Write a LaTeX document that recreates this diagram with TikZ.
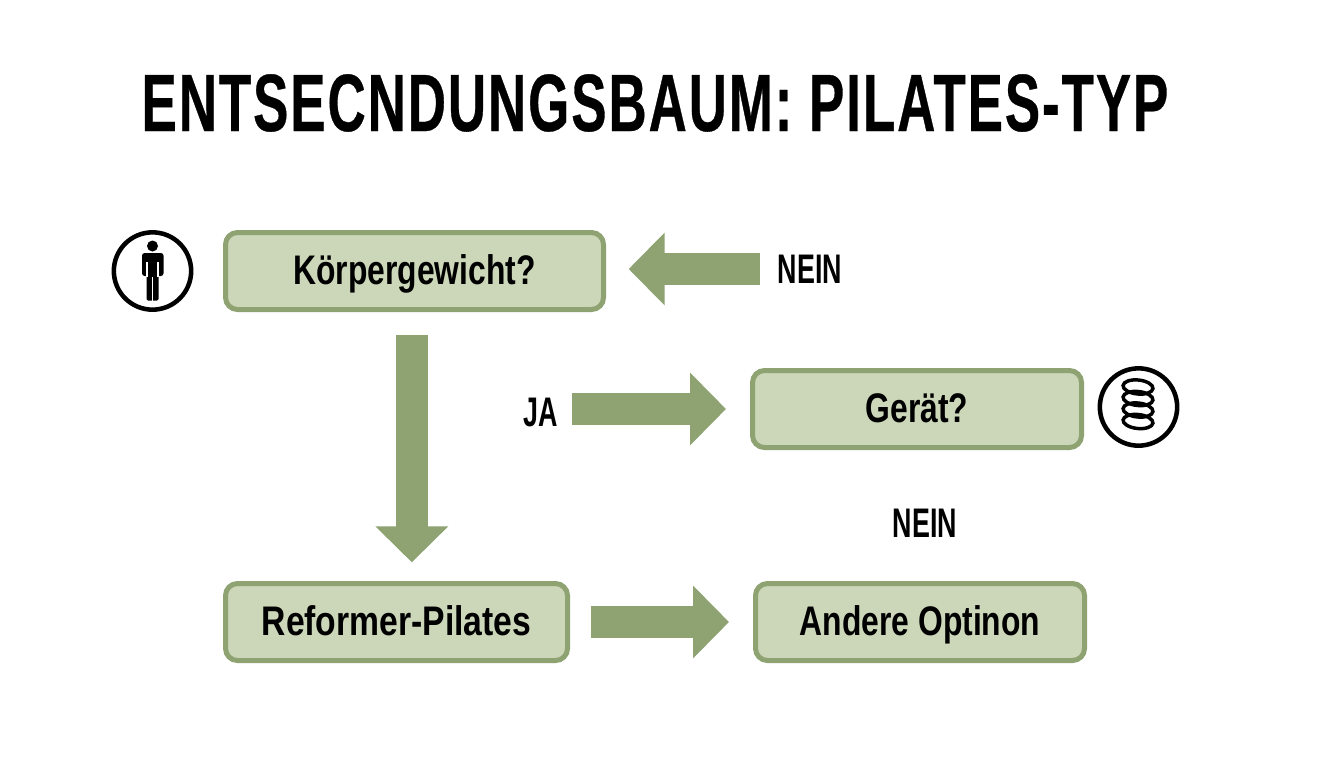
\documentclass[tikz,border=0pt]{standalone}
\usepackage{fontspec}
\usetikzlibrary{arrows.meta}
\newfontfamily\titlenarrow[FakeStretch=0.65,LetterSpace=2.4,BoldFeatures={FakeBold=0.4}]{Liberation Sans}
\newfontfamily\boxnarrow[FakeStretch=0.77]{Liberation Sans}
\newfontfamily\reformernarrow[FakeStretch=0.815]{Liberation Sans}
\newfontfamily\answernarrow[FakeStretch=0.65]{Liberation Sans}
\definecolor{boxfill}{HTML}{CBD7B8}
\definecolor{boxline}{HTML}{8FA272}
\definecolor{arrowgreen}{HTML}{8EA272}
\tikzset{
  decisionbox/.style={draw=boxline,fill=boxfill,line width=3.75pt,rounded corners=9pt,
    minimum height=57.75pt,inner sep=0pt,text height=21.8pt,text depth=1.5pt,
    font=\boxnarrow\bfseries\fontsize{31}{34}\selectfont},
  answer/.style={inner sep=0pt,font=\answernarrow\bfseries\fontsize{31}{34}\selectfont},
  blockarrow/.style={draw=arrowgreen,line width=24pt,-{Triangle[length=27pt,width=53pt]}},
  iconring/.style={draw=black,circle,line width=3.4pt,minimum size=58pt,inner sep=0pt}
}
\begin{document}
\begin{tikzpicture}[x=0.75pt,y=-0.75pt]
  \useasboundingbox[fill=white] (0,0) rectangle (1344,768);
  \node[inner sep=0pt,font=\titlenarrow\bfseries\fontsize{61}{64}\selectfont] (title) at (655,103) {ENTSECNDUNGSBAUM: PILATES-TYP};
  % boxes
  \node[decisionbox,minimum width=283.5pt] (koerper) at (414.5,271) {Körpergewicht?};
  \node[decisionbox,minimum width=246.75pt] (geraet) at (917,409) {Gerät?};
  \node[decisionbox,minimum width=256.5pt,font=\reformernarrow\bfseries\fontsize{31}{34}\selectfont] (reformer) at (396.5,622) {Reformer-Pilates};
  \node[decisionbox,minimum width=246.75pt] (andere) at (920,622) {Andere Optinon};
  % answers
  \node[answer] (neinoben) at (810,269) {NEIN};
  \node[answer] (ja) at (541,412) {JA};
  \node[answer] (neinunten) at (925,523) {NEIN};
  % arrows
  \draw[blockarrow,shorten <=13.5pt,shorten >=17pt] (neinoben.west) -- (neinoben.west -| koerper.east);
  \draw[blockarrow,shorten <=10pt,shorten >=18pt] (ja.east |- geraet.west) -- (geraet.west);
  \draw[blockarrow,shorten <=16pt,shorten >=18pt] (reformer.east) -- (andere.west);
  \draw[blockarrow,shorten <=17pt,shorten >=14pt] ([xshift=-2pt]koerper.south) -- ([xshift=-2pt]koerper.south |- reformer.north);
  % person icon
  \node[iconring] (personicon) at (152.5,271) {};
  \fill (152.5,246) circle (5.5);
  \fill[rounded corners=2pt] (142,253) rectangle (163.5,276);
  \fill[rounded corners=1pt] (146.5,262) rectangle (158.5,300.5);
  \draw[white,line width=0.8pt] (147,262) -- (147,277) (158,262) -- (158,277) (152.5,277) -- (152.5,301);
  % spring icon
  \node[iconring] (springicon) at (1138.5,407) {};
  \foreach \yy in {387,398.5,410,421.5}
    \draw[line width=2.6pt,rotate around={-6:(1138,\yy)}] (1138,\yy) ellipse (15 and 7);
\end{tikzpicture}
\end{document}
